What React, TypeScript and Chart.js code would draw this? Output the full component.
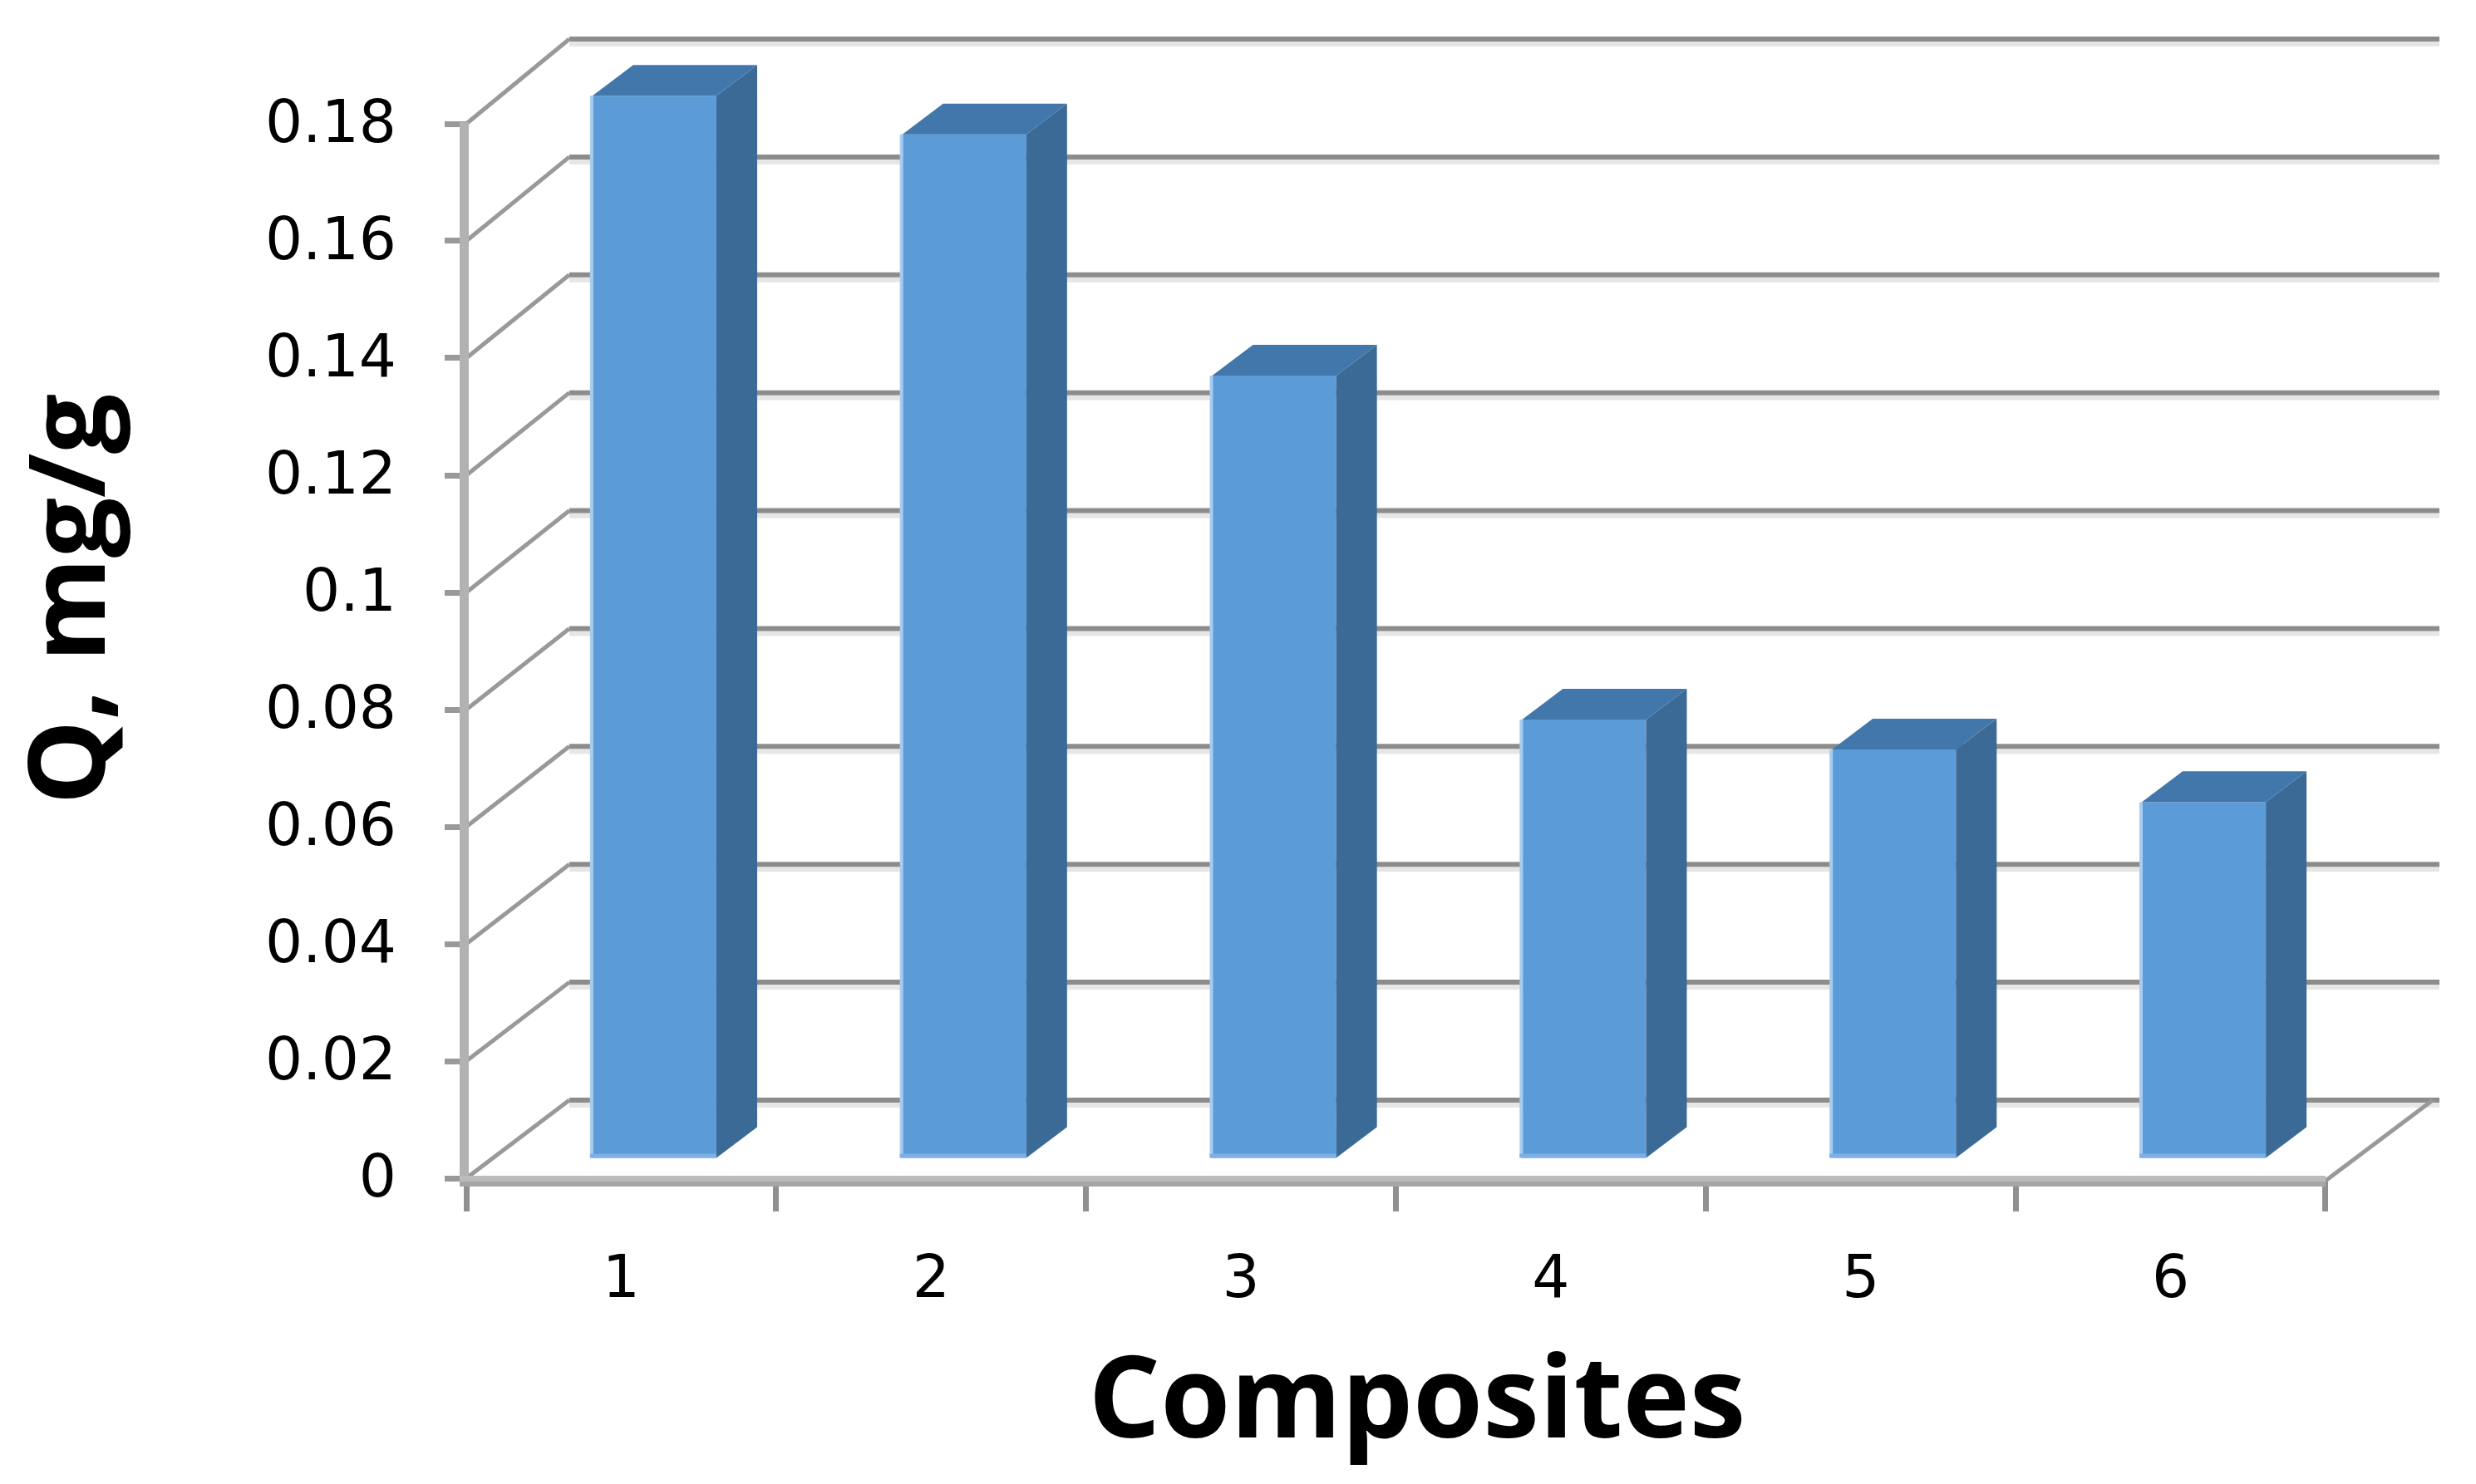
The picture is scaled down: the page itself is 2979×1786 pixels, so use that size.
import React, { useEffect, useRef } from "react";
import { Chart, registerables } from "chart.js";

Chart.register(...registerables);

const categories = ["1", "2", "3", "4", "5", "6"];
const qValues = [0.1814, 0.1748, 0.1336, 0.0749, 0.0698, 0.0608];
const yAxisMax = 0.18;
const yAxisStep = 0.02;
const xTitle = "Composites";
const yTitle = "Q, mg/g";

const WIDTH = 2979;
const HEIGHT = 1786;
const BAR_DX = 40;
const BAR_DY = -24;
const DEPTH_DX = 49;
const DEPTH_DY = -37;
const WALL_DX = 124;
const WALL_END = 2935;

const FRONT = "#5b9bd7";
const SIDE = "#3c6a96";
const TOP = "#4277ab";

const box3d = {
  id: "box3d",
  beforeDatasetsDraw(chart: any) {
    const { ctx, chartArea, scales } = chart;
    const y = scales.y;
    const { left, right, bottom, top } = chartArea;
    const span = bottom - top;
    ctx.save();
    y.ticks.forEach((t: any) => {
      const py = y.getPixelForValue(t.value);
      const wallY = py - 94 - ((bottom - py) / span) * 8;
      ctx.fillStyle = "#e6e6e6";
      ctx.fillRect(left + WALL_DX, wallY + 3, WALL_END - left - WALL_DX, 6);
      ctx.strokeStyle = "#8e8c8a";
      ctx.lineWidth = 6;
      ctx.beginPath();
      ctx.moveTo(left + WALL_DX, wallY);
      ctx.lineTo(WALL_END, wallY);
      ctx.stroke();
      ctx.strokeStyle = "#999999";
      ctx.lineWidth = 5;
      ctx.beginPath();
      ctx.moveTo(left, py);
      ctx.lineTo(left + WALL_DX, wallY);
      ctx.stroke();
    });
    // right floor edge
    const floorY = y.getPixelForValue(0);
    ctx.strokeStyle = "#999999";
    ctx.lineWidth = 5;
    ctx.beginPath();
    ctx.moveTo(right, floorY + 3);
    ctx.lineTo(WALL_END - 8, floorY - 94);
    ctx.stroke();
    // axis bands
    ctx.fillStyle = "#b2b2b2";
    ctx.fillRect(left - 8, top - 2, 11, bottom - top + 12);
    ctx.fillStyle = "#bdbbba";
    ctx.fillRect(left - 8, bottom - 3, right - left + 8, 7);
    ctx.fillStyle = "#a6a6a6";
    ctx.fillRect(left - 8, bottom + 4, right - left + 8, 6);
    ctx.restore();
    // bars live a little behind the front plane
    ctx.save();
    ctx.translate(BAR_DX, BAR_DY);
  },
  afterDatasetsDraw(chart: any) {
    const { ctx } = chart;
    const meta = chart.getDatasetMeta(0);
    meta.data.forEach((bar: any) => {
      const l = bar.x - bar.width / 2;
      const r = bar.x + bar.width / 2;
      ctx.fillStyle = SIDE;
      ctx.beginPath();
      ctx.moveTo(r, bar.y);
      ctx.lineTo(r + DEPTH_DX, bar.y + DEPTH_DY);
      ctx.lineTo(r + DEPTH_DX, bar.base + DEPTH_DY);
      ctx.lineTo(r, bar.base);
      ctx.closePath();
      ctx.fill();
      ctx.fillStyle = TOP;
      ctx.beginPath();
      ctx.moveTo(l, bar.y);
      ctx.lineTo(l + DEPTH_DX, bar.y + DEPTH_DY);
      ctx.lineTo(r + DEPTH_DX, bar.y + DEPTH_DY);
      ctx.lineTo(r, bar.y);
      ctx.closePath();
      ctx.fill();
      ctx.fillStyle = "#a6ccf0";
      ctx.fillRect(l - 3, bar.y, 4, bar.base - bar.y);
      ctx.fillStyle = "#7db0e6";
      ctx.fillRect(l - 3, bar.base - 5, bar.width + 3, 5);
    });
    ctx.restore();
  },
  afterDraw(chart: any) {
    const { ctx } = chart;
    ctx.save();
    ctx.fillStyle = "#000000";
    ctx.textBaseline = "alphabetic";
    ctx.textAlign = "center";
    ctx.font = "bold 136px 'Open Sans'";
    ctx.fillText(xTitle, 1705, 1730);
    ctx.translate(126, 721);
    ctx.rotate(-Math.PI / 2);
    ctx.font = "bold 128px 'Open Sans'";
    ctx.fillText(yTitle, 0, 0);
    ctx.restore();
  },
};

export default function App() {
  const ref = useRef<HTMLCanvasElement>(null);
  useEffect(() => {
    const chart = new Chart(ref.current as HTMLCanvasElement, {
      type: "bar",
      data: {
        labels: categories,
        datasets: [
          {
            data: qValues,
            backgroundColor: FRONT,
            borderWidth: 0,
            barPercentage: 0.4,
            categoryPercentage: 1,
            clip: false,
          } as any,
        ],
      },
      options: {
        responsive: false,
        animation: false,
        devicePixelRatio: 1,
        layout: { padding: { left: 0, top: 149, right: WIDTH - 2798, bottom: 0 } },
        plugins: { legend: { display: false }, tooltip: { enabled: false }, title: { display: false } },
        scales: {
          x: {
            afterFit: (s: any) => {
              s.height = HEIGHT - 1418;
            },
            border: { display: false },
            grid: { drawOnChartArea: false, drawTicks: true, tickLength: 40, tickWidth: 7, tickColor: "#909090", offset: true },
            ticks: { color: "#000000", font: { family: "'DejaVu Sans'", size: 71 }, padding: 42, maxRotation: 0 },
          },
          y: {
            min: 0,
            max: yAxisMax,
            afterFit: (s: any) => {
              s.width = 561;
            },
            border: { display: false },
            grid: { drawOnChartArea: false, drawTicks: true, tickLength: 26, tickWidth: 7, tickColor: "#999999" },
            ticks: {
              stepSize: yAxisStep,
              color: "#000000",
              font: { family: "'DejaVu Sans'", size: 71 },
              padding: 58,
              labelOffset: 4,
              callback: (v: any) => String(Number(Number(v).toFixed(2))),
            },
          },
        },
      },
      plugins: [box3d],
    });
    return () => chart.destroy();
  }, []);
  return (
    <div style={{ position: "fixed", left: 0, top: 0, width: WIDTH, height: HEIGHT, background: "#ffffff", overflow: "hidden" }}>
      <canvas ref={ref} width={WIDTH} height={HEIGHT} style={{ display: "block" }} />
    </div>
  );
}
